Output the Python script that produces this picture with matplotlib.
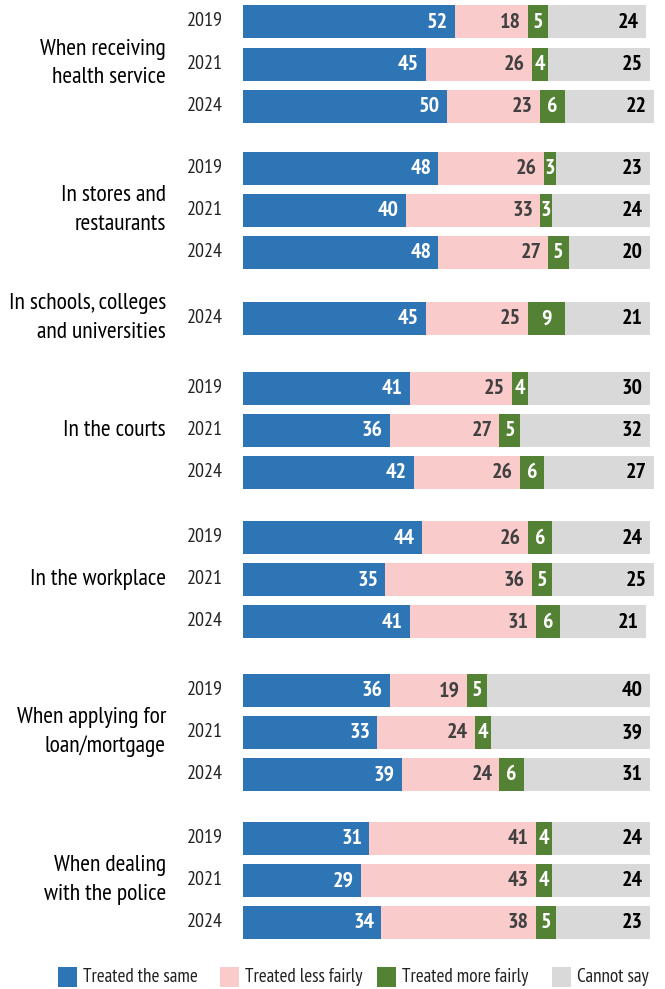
import matplotlib
matplotlib.use("Agg")
import matplotlib.pyplot as plt
from matplotlib import font_manager as fm
from matplotlib.patches import Rectangle

names = {f.name for f in fm.fontManager.ttflist}
cands = ["PT Sans Narrow", "Fira Sans Condensed", "Roboto Condensed",
         "Open Sans Condensed", "Archivo Narrow", "Liberation Sans Narrow",
         "IBM Plex Sans Condensed", "Encode Sans Condensed", "Roboto"]
FONT = next((c for c in cands if c in names), "DejaVu Sans")
plt.rcParams['font.family'] = [FONT, 'DejaVu Sans']

categories = ["When receiving\nhealth service", "In stores and\nrestaurants",
              "In schools, colleges\nand universities", "In the courts",
              "In the workplace", "When applying for\nloan/mortgage",
              "When dealing\nwith the police"]
years = [["2019", "2021", "2024"], ["2019", "2021", "2024"], ["2024"],
         ["2019", "2021", "2024"], ["2019", "2021", "2024"],
         ["2019", "2021", "2024"], ["2019", "2021", "2024"]]
series = ["Treated the same", "Treated less fairly", "Treated more fairly", "Cannot say"]
same = [[52, 45, 50], [48, 40, 48], [45], [41, 36, 42], [44, 35, 41], [36, 33, 39], [31, 29, 34]]
less = [[18, 26, 23], [26, 33, 27], [25], [25, 27, 26], [26, 36, 31], [19, 24, 24], [41, 43, 38]]
more = [[5, 4, 6], [3, 3, 5], [9], [4, 5, 6], [6, 5, 6], [5, 4, 6], [4, 4, 5]]
cannot = [[24, 25, 22], [23, 24, 20], [21], [30, 32, 27], [24, 25, 21], [40, 39, 31], [24, 24, 23]]

colors = ["#2E75B6", "#F9CBCB", "#548235", "#D9D9D9"]
txtcol = ["white", "#404040", "white", "black"]

# layout (pixel rows)
row_y = [[21, 64, 106], [168, 210, 252], [318], [388, 430, 472],
         [537, 579, 621], [690, 732, 774], [838, 880, 922]]
W, H = 665, 989
x0 = 243
scale = 4.07
bar_h = 33

fig = plt.figure(figsize=(W / 100, H / 100), dpi=100)
ax = fig.add_axes([0, 0, 1, 1])
ax.set_xlim(-x0 / scale, (W - x0) / scale)
ax.set_ylim(H, 0)
ax.axis("off")
renderer = fig.canvas.get_renderer()


def fit_size(s, target_px, weight="normal"):
    t = fig.text(0, 0, s, fontsize=10, fontweight=weight)
    w = t.get_window_extent(renderer).width
    t.remove()
    return 10 * target_px / w


fs_cat = fit_size("When receiving", 126)
fs_year = fit_size("2019", 36)
fs_val = fit_size("52", 21, "bold")
fs_leg = fit_size("Treated the same", 116)

pad = 7 / scale

for g, cat in enumerate(categories):
    ys = row_y[g]
    for i, yr in enumerate(years[g]):
        y = ys[i]
        vals = [same[g][i], less[g][i], more[g][i], cannot[g][i]]
        left = 0
        for k, v in enumerate(vals):
            ax.barh(y, v, left=left, height=bar_h, color=colors[k], linewidth=0)
            if k == 2:
                ax.text(left + v / 2, y + 1, str(v), ha="center", va="center",
                        color=txtcol[k], fontsize=fs_val, fontweight="bold")
            else:
                ax.text(left + v - pad, y + 1, str(v), ha="right", va="center",
                        color=txtcol[k], fontsize=fs_val, fontweight="bold")
            left += v
        ax.text(-20 / scale, y, yr, ha="right", va="center", fontsize=fs_year,
                color="#222222")
    ymid = (ys[0] + ys[-1]) / 2
    ax.text(-77 / scale, ymid, cat, ha="right", va="center", fontsize=fs_cat,
            color="black", linespacing=1.45)

# legend
leg_x = [58, 220, 377, 552]
leg_y = 977
for k, s in enumerate(series):
    px = (leg_x[k] - x0) / scale
    ax.add_patch(Rectangle((px, leg_y - 10), 19 / scale, 20, color=colors[k],
                           clip_on=False, linewidth=0))
    ax.text(px + 25 / scale, leg_y, s, ha="left", va="center", fontsize=fs_leg,
            color="#222222")

fig.savefig("out.png", dpi=100)
